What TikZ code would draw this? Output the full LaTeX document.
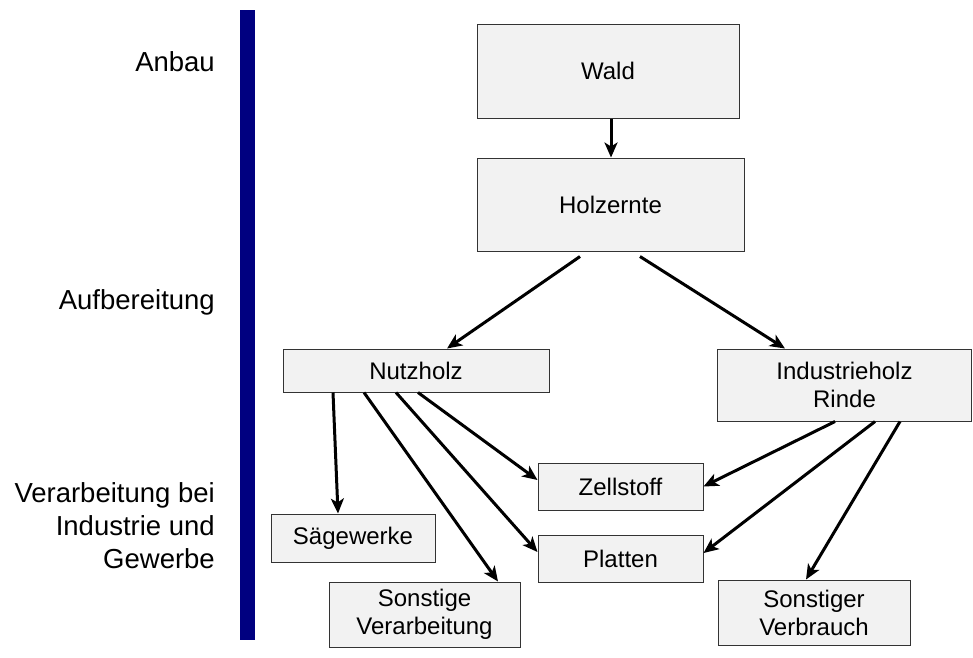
\documentclass[tikz,border=0pt]{standalone}
\usepackage{fontspec}
\setmainfont{Liberation Sans}
\usetikzlibrary{arrows.meta}
\definecolor{boxfill}{RGB}{242,242,242}
\definecolor{barblue}{RGB}{0,0,128}
\tikzset{x=1pt, y=-1pt,
    every node/.style={
        font=\fontsize{24}{28}\selectfont},
    stage/.style={
        draw=black!80,
        line width=1pt,
        fill=boxfill,
        align=center,
        inner sep=0pt},
    phase/.style={
        anchor=east,
        align=right,
        inner sep=0pt,
        font=\fontsize{27.5}{33}\selectfont},
    every edge/.style={
        draw,
        -{Stealth[length=15pt,width=13pt,inset=4pt]},
        line width=3pt}}

\begin{document}
\begin{tikzpicture}
        \useasboundingbox (0,0) rectangle (973,657);
        % phases
        \fill[barblue] (240,10) rectangle (255,640);
        \node[phase] (anbau) at (215,62) {Anbau};
        \node[phase] (aufb) at (215,302) {Aufbereitung};
        \node[phase] (verarb) at (215,526) {Verarbeitung bei\\Industrie und\\Gewerbe};
        % stages
        \node[stage, minimum width=262pt, minimum height=94pt] (wald) at (608,71) {Wald};
        \node[stage, minimum width=267pt, minimum height=93pt] (hz) at (610.5,204.5) {Holzernte};
        \node[stage, minimum width=266pt, minimum height=43pt] (nh) at (416,370.5) {Nutzholz};
        \node[stage, minimum width=254pt, minimum height=72pt] (ih) at (844.5,385) {Industrieholz\\Rinde};
        \node[stage, minimum width=164pt, minimum height=48pt] (sw) at (353,538) {Sägewerke};
        \node[stage, minimum width=191pt, minimum height=65pt] (sv) at (424.5,614.5) {Sonstige\\Verarbeitung};
        \node[stage, minimum width=165pt, minimum height=47pt] (zs) at (620.5,486.5) {Zellstoff};
        \node[stage, minimum width=165pt, minimum height=47pt] (pl) at (620.5,558.5) {Platten};
        \node[stage, minimum width=192pt, minimum height=65pt] (sb) at (814,612.5) {Sonstiger\\Verbrauch};
        % flows
        \draw ([xshift=3pt]wald.south) edge ([xshift=0.5pt]hz.north);
        \draw ([xshift=-30.5pt,yshift=-5pt]hz.south) edge ([xshift=31pt]nh.north);
        \draw ([xshift=29.5pt,yshift=-5pt]hz.south) edge ([xshift=-59.5pt]ih.north);
        \draw ([xshift=-83pt]nh.south) edge ([xshift=-15pt]sw.north);
        \draw ([xshift=-52pt]nh.south) edge ([xshift=73.5pt]sv.north);
        \draw ([xshift=-20pt]nh.south) edge ([yshift=6.5pt]pl.west);
        \draw ([xshift=2pt]nh.south) edge ([yshift=6.5pt]zs.west);
        \draw ([xshift=-9.5pt]ih.south) edge (zs.east);
        \draw ([xshift=30.5pt]ih.south) edge ([yshift=5.5pt]pl.east);
        \draw ([xshift=55.5pt]ih.south) edge ([xshift=-8pt]sb.north);
    \end{tikzpicture}
\end{document}
